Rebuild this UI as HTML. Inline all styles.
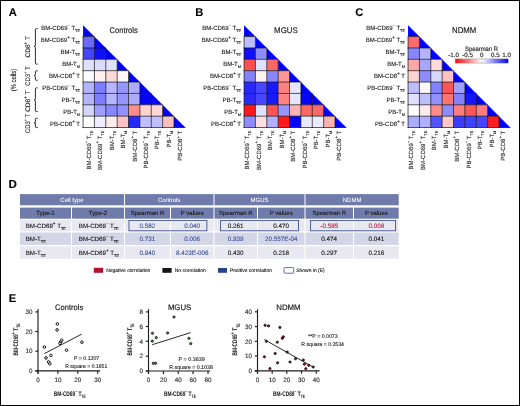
<!DOCTYPE html>
<html><head><meta charset="utf-8"><style>
html,body{margin:0;padding:0;background:#fff;}
svg{display:block;font-family:"Liberation Sans", sans-serif;-webkit-font-smoothing:antialiased;will-change:transform;text-rendering:geometricPrecision;}
</style></head><body>
<svg width="520" height="406" viewBox="0 0 520 406">
<rect x="0" y="0" width="520" height="406" fill="#fff"/>

<text x="8.80" y="15.50" font-size="11.2" fill="#000" stroke="#000" stroke-width="0.1" font-weight="bold">A</text>
<text x="195.20" y="15.60" font-size="11.2" fill="#000" stroke="#000" stroke-width="0.1" font-weight="bold">B</text>
<text x="355.30" y="15.70" font-size="11.2" fill="#000" stroke="#000" stroke-width="0.1" font-weight="bold">C</text>
<text x="8.60" y="188.20" font-size="11.6" fill="#000" stroke="#000" stroke-width="0.1" font-weight="bold">D</text>
<text x="8.80" y="302.10" font-size="11.2" fill="#000" stroke="#000" stroke-width="0.1" font-weight="bold">E</text>
<polygon points="83.05,25.20 94.42,36.57 83.05,36.57" fill="#0000ff"/>
<polygon points="94.42,36.57 105.79,47.94 94.42,47.94" fill="#0000ff"/>
<polygon points="105.79,47.94 117.16,59.31 105.79,59.31" fill="#0000ff"/>
<polygon points="117.16,59.31 128.53,70.68 117.16,70.68" fill="#0000ff"/>
<polygon points="128.53,70.68 139.90,82.05 128.53,82.05" fill="#0000ff"/>
<polygon points="139.90,82.05 151.27,93.42 139.90,93.42" fill="#0000ff"/>
<polygon points="151.27,93.42 162.64,104.79 151.27,104.79" fill="#0000ff"/>
<polygon points="162.64,104.79 174.01,116.16 162.64,116.16" fill="#0000ff"/>
<polygon points="174.01,116.16 185.38,127.53 174.01,127.53" fill="#0000ff"/>
<rect x="83.05" y="36.57" width="11.37" height="11.37" fill="rgb(107,107,255)"/>
<rect x="83.05" y="47.94" width="11.37" height="11.37" fill="rgb(69,69,255)"/>
<rect x="94.42" y="47.94" width="11.37" height="11.37" fill="rgb(15,15,255)"/>
<rect x="83.05" y="59.31" width="11.37" height="11.37" fill="rgb(224,224,255)"/>
<rect x="94.42" y="59.31" width="11.37" height="11.37" fill="rgb(219,219,255)"/>
<rect x="105.79" y="59.31" width="11.37" height="11.37" fill="rgb(224,224,255)"/>
<rect x="83.05" y="70.68" width="11.37" height="11.37" fill="rgb(250,250,255)"/>
<rect x="94.42" y="70.68" width="11.37" height="11.37" fill="rgb(255,240,240)"/>
<rect x="105.79" y="70.68" width="11.37" height="11.37" fill="rgb(255,217,217)"/>
<rect x="117.16" y="70.68" width="11.37" height="11.37" fill="rgb(255,247,247)"/>
<rect x="83.05" y="82.05" width="11.37" height="11.37" fill="rgb(181,181,255)"/>
<rect x="94.42" y="82.05" width="11.37" height="11.37" fill="rgb(125,125,255)"/>
<rect x="105.79" y="82.05" width="11.37" height="11.37" fill="rgb(181,181,255)"/>
<rect x="117.16" y="82.05" width="11.37" height="11.37" fill="rgb(150,150,255)"/>
<rect x="128.53" y="82.05" width="11.37" height="11.37" fill="rgb(171,171,255)"/>
<rect x="83.05" y="93.42" width="11.37" height="11.37" fill="rgb(181,181,255)"/>
<rect x="94.42" y="93.42" width="11.37" height="11.37" fill="rgb(125,125,255)"/>
<rect x="105.79" y="93.42" width="11.37" height="11.37" fill="rgb(181,181,255)"/>
<rect x="117.16" y="93.42" width="11.37" height="11.37" fill="rgb(150,150,255)"/>
<rect x="128.53" y="93.42" width="11.37" height="11.37" fill="rgb(171,171,255)"/>
<rect x="139.90" y="93.42" width="11.37" height="11.37" fill="rgb(5,5,255)"/>
<rect x="83.05" y="104.79" width="11.37" height="11.37" fill="rgb(214,214,255)"/>
<rect x="94.42" y="104.79" width="11.37" height="11.37" fill="rgb(158,158,255)"/>
<rect x="105.79" y="104.79" width="11.37" height="11.37" fill="rgb(135,135,255)"/>
<rect x="117.16" y="104.79" width="11.37" height="11.37" fill="rgb(145,145,255)"/>
<rect x="128.53" y="104.79" width="11.37" height="11.37" fill="rgb(255,140,140)"/>
<rect x="139.90" y="104.79" width="11.37" height="11.37" fill="rgb(255,209,209)"/>
<rect x="151.27" y="104.79" width="11.37" height="11.37" fill="rgb(255,214,214)"/>
<rect x="83.05" y="116.16" width="11.37" height="11.37" fill="rgb(255,255,255)"/>
<rect x="94.42" y="116.16" width="11.37" height="11.37" fill="rgb(237,237,255)"/>
<rect x="105.79" y="116.16" width="11.37" height="11.37" fill="rgb(255,237,237)"/>
<rect x="117.16" y="116.16" width="11.37" height="11.37" fill="rgb(255,194,194)"/>
<rect x="128.53" y="116.16" width="11.37" height="11.37" fill="rgb(41,41,255)"/>
<rect x="139.90" y="116.16" width="11.37" height="11.37" fill="rgb(191,191,255)"/>
<rect x="151.27" y="116.16" width="11.37" height="11.37" fill="rgb(191,191,255)"/>
<rect x="162.64" y="116.16" width="11.37" height="11.37" fill="rgb(255,191,191)"/>
<line x1="82.6" y1="36.57" x2="94.42" y2="36.57" stroke="#000" stroke-width="0.9" stroke-opacity="0.72"/>
<line x1="82.6" y1="47.94" x2="105.79" y2="47.94" stroke="#000" stroke-width="0.9" stroke-opacity="0.72"/>
<line x1="82.6" y1="59.31" x2="117.16" y2="59.31" stroke="#000" stroke-width="0.9" stroke-opacity="0.72"/>
<line x1="82.6" y1="70.68" x2="128.53" y2="70.68" stroke="#000" stroke-width="0.9" stroke-opacity="0.72"/>
<line x1="82.6" y1="82.05" x2="139.90" y2="82.05" stroke="#000" stroke-width="0.9" stroke-opacity="0.72"/>
<line x1="82.6" y1="93.42" x2="151.27" y2="93.42" stroke="#000" stroke-width="0.9" stroke-opacity="0.72"/>
<line x1="82.6" y1="104.79" x2="162.64" y2="104.79" stroke="#000" stroke-width="0.9" stroke-opacity="0.72"/>
<line x1="82.6" y1="116.16" x2="174.01" y2="116.16" stroke="#000" stroke-width="0.9" stroke-opacity="0.72"/>
<line x1="82.6" y1="127.53" x2="185.38" y2="127.53" stroke="#000" stroke-width="0.9" stroke-opacity="0.72"/>
<line x1="83.05" y1="36.57" x2="83.05" y2="127.98" stroke="#000" stroke-width="0.9" stroke-opacity="0.72"/>
<line x1="94.42" y1="36.57" x2="94.42" y2="127.98" stroke="#000" stroke-width="0.9" stroke-opacity="0.72"/>
<line x1="105.79" y1="47.94" x2="105.79" y2="127.98" stroke="#000" stroke-width="0.9" stroke-opacity="0.72"/>
<line x1="117.16" y1="59.31" x2="117.16" y2="127.98" stroke="#000" stroke-width="0.9" stroke-opacity="0.72"/>
<line x1="128.53" y1="70.68" x2="128.53" y2="127.98" stroke="#000" stroke-width="0.9" stroke-opacity="0.72"/>
<line x1="139.90" y1="82.05" x2="139.90" y2="127.98" stroke="#000" stroke-width="0.9" stroke-opacity="0.72"/>
<line x1="151.27" y1="93.42" x2="151.27" y2="127.98" stroke="#000" stroke-width="0.9" stroke-opacity="0.72"/>
<line x1="162.64" y1="104.79" x2="162.64" y2="127.98" stroke="#000" stroke-width="0.9" stroke-opacity="0.72"/>
<line x1="174.01" y1="116.16" x2="174.01" y2="127.98" stroke="#000" stroke-width="0.9" stroke-opacity="0.72"/>
<text x="80.05" y="29.80" font-size="6" fill="#222" stroke="#222" stroke-width="0.12" text-anchor="end" >BM-CD69<tspan font-size="4.00" dy="-2.8">−</tspan><tspan dy="2.8"> T</tspan><tspan font-size="3.9" dy="2.0">TE</tspan></text>
<text x="80.05" y="41.78" font-size="6" fill="#222" stroke="#222" stroke-width="0.12" text-anchor="end" >BM-CD69<tspan font-size="4.60" dy="-2.8">+</tspan><tspan dy="2.8"> T</tspan><tspan font-size="3.9" dy="2.0">TE</tspan></text>
<text x="80.05" y="53.76" font-size="6" fill="#222" stroke="#222" stroke-width="0.12" text-anchor="end" >BM-T<tspan font-size="3.9" dy="2.0">TE</tspan></text>
<text x="80.05" y="65.74" font-size="6" fill="#222" stroke="#222" stroke-width="0.12" text-anchor="end" >BM-T<tspan font-size="3.9" dy="2.0">M</tspan></text>
<text x="80.05" y="77.72" font-size="6" fill="#222" stroke="#222" stroke-width="0.12" text-anchor="end" >BM-CD8<tspan font-size="4.60" dy="-2.8">+</tspan><tspan dy="2.8"> T</tspan></text>
<text x="80.05" y="89.70" font-size="6" fill="#222" stroke="#222" stroke-width="0.12" text-anchor="end" >PB-CD69<tspan font-size="4.00" dy="-2.8">−</tspan><tspan dy="2.8"> T</tspan><tspan font-size="3.9" dy="2.0">TE</tspan></text>
<text x="80.05" y="101.68" font-size="6" fill="#222" stroke="#222" stroke-width="0.12" text-anchor="end" >PB-T<tspan font-size="3.9" dy="2.0">TE</tspan></text>
<text x="80.05" y="113.66" font-size="6" fill="#222" stroke="#222" stroke-width="0.12" text-anchor="end" >PB-T<tspan font-size="3.9" dy="2.0">M</tspan></text>
<text x="80.05" y="125.64" font-size="6" fill="#222" stroke="#222" stroke-width="0.12" text-anchor="end" >PB-CD8<tspan font-size="4.60" dy="-2.8">+</tspan><tspan dy="2.8"> T</tspan></text>
<text transform="translate(90.80,130.70) rotate(-90)" font-size="6" fill="#222" stroke="#222" stroke-width="0.12" text-anchor="end" >BM-CD69<tspan font-size="4.00" dy="-2.8">−</tspan><tspan dy="2.8"> T</tspan><tspan font-size="3.9" dy="2.0">TE</tspan></text>
<text transform="translate(102.24,130.70) rotate(-90)" font-size="6" fill="#222" stroke="#222" stroke-width="0.12" text-anchor="end" >BM-CD69<tspan font-size="4.60" dy="-2.8">+</tspan><tspan dy="2.8"> T</tspan><tspan font-size="3.9" dy="2.0">TE</tspan></text>
<text transform="translate(113.68,130.70) rotate(-90)" font-size="6" fill="#222" stroke="#222" stroke-width="0.12" text-anchor="end" >BM-T<tspan font-size="3.9" dy="2.0">TE</tspan></text>
<text transform="translate(125.12,130.70) rotate(-90)" font-size="6" fill="#222" stroke="#222" stroke-width="0.12" text-anchor="end" >BM-T<tspan font-size="3.9" dy="2.0">M</tspan></text>
<text transform="translate(136.56,130.70) rotate(-90)" font-size="6" fill="#222" stroke="#222" stroke-width="0.12" text-anchor="end" >BM-CD8<tspan font-size="4.60" dy="-2.8">+</tspan><tspan dy="2.8"> T</tspan></text>
<text transform="translate(148.00,130.70) rotate(-90)" font-size="6" fill="#222" stroke="#222" stroke-width="0.12" text-anchor="end" >PB-CD69<tspan font-size="4.00" dy="-2.8">−</tspan><tspan dy="2.8"> T</tspan><tspan font-size="3.9" dy="2.0">TE</tspan></text>
<text transform="translate(159.44,130.70) rotate(-90)" font-size="6" fill="#222" stroke="#222" stroke-width="0.12" text-anchor="end" >PB-T<tspan font-size="3.9" dy="2.0">TE</tspan></text>
<text transform="translate(170.88,130.70) rotate(-90)" font-size="6" fill="#222" stroke="#222" stroke-width="0.12" text-anchor="end" >PB-T<tspan font-size="3.9" dy="2.0">M</tspan></text>
<text transform="translate(182.32,130.70) rotate(-90)" font-size="6" fill="#222" stroke="#222" stroke-width="0.12" text-anchor="end" >PB-CD8<tspan font-size="4.60" dy="-2.8">+</tspan><tspan dy="2.8"> T</tspan></text>
<text x="109.50" y="32.50" font-size="8.2" fill="#1a1a1a" stroke="#1a1a1a" stroke-width="0.15" textLength="28.3" lengthAdjust="spacingAndGlyphs">Controls</text>
<polygon points="244.05,25.20 255.42,36.57 244.05,36.57" fill="#0000ff"/>
<polygon points="255.42,36.57 266.79,47.94 255.42,47.94" fill="#0000ff"/>
<polygon points="266.79,47.94 278.16,59.31 266.79,59.31" fill="#0000ff"/>
<polygon points="278.16,59.31 289.53,70.68 278.16,70.68" fill="#0000ff"/>
<polygon points="289.53,70.68 300.90,82.05 289.53,82.05" fill="#0000ff"/>
<polygon points="300.90,82.05 312.27,93.42 300.90,93.42" fill="#0000ff"/>
<polygon points="312.27,93.42 323.64,104.79 312.27,104.79" fill="#0000ff"/>
<polygon points="323.64,104.79 335.01,116.16 323.64,116.16" fill="#0000ff"/>
<polygon points="335.01,116.16 346.38,127.53 335.01,127.53" fill="#0000ff"/>
<rect x="244.05" y="36.57" width="11.37" height="11.37" fill="rgb(188,188,255)"/>
<rect x="244.05" y="47.94" width="11.37" height="11.37" fill="rgb(16,16,255)"/>
<rect x="255.42" y="47.94" width="11.37" height="11.37" fill="rgb(140,140,255)"/>
<rect x="244.05" y="59.31" width="11.37" height="11.37" fill="rgb(255,79,79)"/>
<rect x="255.42" y="59.31" width="11.37" height="11.37" fill="rgb(224,224,255)"/>
<rect x="266.79" y="59.31" width="11.37" height="11.37" fill="rgb(255,102,102)"/>
<rect x="244.05" y="70.68" width="11.37" height="11.37" fill="rgb(130,130,255)"/>
<rect x="255.42" y="70.68" width="11.37" height="11.37" fill="rgb(255,242,242)"/>
<rect x="266.79" y="70.68" width="11.37" height="11.37" fill="rgb(135,135,255)"/>
<rect x="278.16" y="70.68" width="11.37" height="11.37" fill="rgb(255,150,150)"/>
<rect x="244.05" y="82.05" width="11.37" height="11.37" fill="rgb(41,41,255)"/>
<rect x="255.42" y="82.05" width="11.37" height="11.37" fill="rgb(71,71,255)"/>
<rect x="266.79" y="82.05" width="11.37" height="11.37" fill="rgb(25,25,255)"/>
<rect x="278.16" y="82.05" width="11.37" height="11.37" fill="rgb(255,130,130)"/>
<rect x="289.53" y="82.05" width="11.37" height="11.37" fill="rgb(230,230,255)"/>
<rect x="244.05" y="93.42" width="11.37" height="11.37" fill="rgb(41,41,255)"/>
<rect x="255.42" y="93.42" width="11.37" height="11.37" fill="rgb(71,71,255)"/>
<rect x="266.79" y="93.42" width="11.37" height="11.37" fill="rgb(25,25,255)"/>
<rect x="278.16" y="93.42" width="11.37" height="11.37" fill="rgb(255,130,130)"/>
<rect x="289.53" y="93.42" width="11.37" height="11.37" fill="rgb(230,230,255)"/>
<rect x="300.90" y="93.42" width="11.37" height="11.37" fill="rgb(5,5,255)"/>
<rect x="244.05" y="104.79" width="11.37" height="11.37" fill="rgb(255,25,25)"/>
<rect x="255.42" y="104.79" width="11.37" height="11.37" fill="rgb(224,224,255)"/>
<rect x="266.79" y="104.79" width="11.37" height="11.37" fill="rgb(255,84,84)"/>
<rect x="278.16" y="104.79" width="11.37" height="11.37" fill="rgb(150,150,255)"/>
<rect x="289.53" y="104.79" width="11.37" height="11.37" fill="rgb(255,178,178)"/>
<rect x="300.90" y="104.79" width="11.37" height="11.37" fill="rgb(255,102,102)"/>
<rect x="312.27" y="104.79" width="11.37" height="11.37" fill="rgb(255,102,102)"/>
<rect x="244.05" y="116.16" width="11.37" height="11.37" fill="rgb(140,140,255)"/>
<rect x="255.42" y="116.16" width="11.37" height="11.37" fill="rgb(255,224,224)"/>
<rect x="266.79" y="116.16" width="11.37" height="11.37" fill="rgb(176,176,255)"/>
<rect x="278.16" y="116.16" width="11.37" height="11.37" fill="rgb(255,25,25)"/>
<rect x="289.53" y="116.16" width="11.37" height="11.37" fill="rgb(5,5,255)"/>
<rect x="300.90" y="116.16" width="11.37" height="11.37" fill="rgb(235,235,255)"/>
<rect x="312.27" y="116.16" width="11.37" height="11.37" fill="rgb(235,235,255)"/>
<rect x="323.64" y="116.16" width="11.37" height="11.37" fill="rgb(255,178,178)"/>
<line x1="243.60000000000002" y1="36.57" x2="255.42" y2="36.57" stroke="#000" stroke-width="0.9" stroke-opacity="0.72"/>
<line x1="243.60000000000002" y1="47.94" x2="266.79" y2="47.94" stroke="#000" stroke-width="0.9" stroke-opacity="0.72"/>
<line x1="243.60000000000002" y1="59.31" x2="278.16" y2="59.31" stroke="#000" stroke-width="0.9" stroke-opacity="0.72"/>
<line x1="243.60000000000002" y1="70.68" x2="289.53" y2="70.68" stroke="#000" stroke-width="0.9" stroke-opacity="0.72"/>
<line x1="243.60000000000002" y1="82.05" x2="300.90" y2="82.05" stroke="#000" stroke-width="0.9" stroke-opacity="0.72"/>
<line x1="243.60000000000002" y1="93.42" x2="312.27" y2="93.42" stroke="#000" stroke-width="0.9" stroke-opacity="0.72"/>
<line x1="243.60000000000002" y1="104.79" x2="323.64" y2="104.79" stroke="#000" stroke-width="0.9" stroke-opacity="0.72"/>
<line x1="243.60000000000002" y1="116.16" x2="335.01" y2="116.16" stroke="#000" stroke-width="0.9" stroke-opacity="0.72"/>
<line x1="243.60000000000002" y1="127.53" x2="346.38" y2="127.53" stroke="#000" stroke-width="0.9" stroke-opacity="0.72"/>
<line x1="244.05" y1="36.57" x2="244.05" y2="127.98" stroke="#000" stroke-width="0.9" stroke-opacity="0.72"/>
<line x1="255.42" y1="36.57" x2="255.42" y2="127.98" stroke="#000" stroke-width="0.9" stroke-opacity="0.72"/>
<line x1="266.79" y1="47.94" x2="266.79" y2="127.98" stroke="#000" stroke-width="0.9" stroke-opacity="0.72"/>
<line x1="278.16" y1="59.31" x2="278.16" y2="127.98" stroke="#000" stroke-width="0.9" stroke-opacity="0.72"/>
<line x1="289.53" y1="70.68" x2="289.53" y2="127.98" stroke="#000" stroke-width="0.9" stroke-opacity="0.72"/>
<line x1="300.90" y1="82.05" x2="300.90" y2="127.98" stroke="#000" stroke-width="0.9" stroke-opacity="0.72"/>
<line x1="312.27" y1="93.42" x2="312.27" y2="127.98" stroke="#000" stroke-width="0.9" stroke-opacity="0.72"/>
<line x1="323.64" y1="104.79" x2="323.64" y2="127.98" stroke="#000" stroke-width="0.9" stroke-opacity="0.72"/>
<line x1="335.01" y1="116.16" x2="335.01" y2="127.98" stroke="#000" stroke-width="0.9" stroke-opacity="0.72"/>
<text x="241.05" y="29.80" font-size="6" fill="#222" stroke="#222" stroke-width="0.12" text-anchor="end" >BM-CD69<tspan font-size="4.00" dy="-2.8">−</tspan><tspan dy="2.8"> T</tspan><tspan font-size="3.9" dy="2.0">TE</tspan></text>
<text x="241.05" y="41.78" font-size="6" fill="#222" stroke="#222" stroke-width="0.12" text-anchor="end" >BM-CD69<tspan font-size="4.60" dy="-2.8">+</tspan><tspan dy="2.8"> T</tspan><tspan font-size="3.9" dy="2.0">TE</tspan></text>
<text x="241.05" y="53.76" font-size="6" fill="#222" stroke="#222" stroke-width="0.12" text-anchor="end" >BM-T<tspan font-size="3.9" dy="2.0">TE</tspan></text>
<text x="241.05" y="65.74" font-size="6" fill="#222" stroke="#222" stroke-width="0.12" text-anchor="end" >BM-T<tspan font-size="3.9" dy="2.0">M</tspan></text>
<text x="241.05" y="77.72" font-size="6" fill="#222" stroke="#222" stroke-width="0.12" text-anchor="end" >BM-CD8<tspan font-size="4.60" dy="-2.8">+</tspan><tspan dy="2.8"> T</tspan></text>
<text x="241.05" y="89.70" font-size="6" fill="#222" stroke="#222" stroke-width="0.12" text-anchor="end" >PB-CD69<tspan font-size="4.00" dy="-2.8">−</tspan><tspan dy="2.8"> T</tspan><tspan font-size="3.9" dy="2.0">TE</tspan></text>
<text x="241.05" y="101.68" font-size="6" fill="#222" stroke="#222" stroke-width="0.12" text-anchor="end" >PB-T<tspan font-size="3.9" dy="2.0">TE</tspan></text>
<text x="241.05" y="113.66" font-size="6" fill="#222" stroke="#222" stroke-width="0.12" text-anchor="end" >PB-T<tspan font-size="3.9" dy="2.0">M</tspan></text>
<text x="241.05" y="125.64" font-size="6" fill="#222" stroke="#222" stroke-width="0.12" text-anchor="end" >PB-CD8<tspan font-size="4.60" dy="-2.8">+</tspan><tspan dy="2.8"> T</tspan></text>
<text transform="translate(249.10,130.70) rotate(-90)" font-size="6" fill="#222" stroke="#222" stroke-width="0.12" text-anchor="end" >BM-CD69<tspan font-size="4.00" dy="-2.8">−</tspan><tspan dy="2.8"> T</tspan><tspan font-size="3.9" dy="2.0">TE</tspan></text>
<text transform="translate(260.60,130.70) rotate(-90)" font-size="6" fill="#222" stroke="#222" stroke-width="0.12" text-anchor="end" >BM-CD69<tspan font-size="4.60" dy="-2.8">+</tspan><tspan dy="2.8"> T</tspan><tspan font-size="3.9" dy="2.0">TE</tspan></text>
<text transform="translate(272.10,130.70) rotate(-90)" font-size="6" fill="#222" stroke="#222" stroke-width="0.12" text-anchor="end" >BM-T<tspan font-size="3.9" dy="2.0">TE</tspan></text>
<text transform="translate(283.60,130.70) rotate(-90)" font-size="6" fill="#222" stroke="#222" stroke-width="0.12" text-anchor="end" >BM-T<tspan font-size="3.9" dy="2.0">M</tspan></text>
<text transform="translate(295.10,130.70) rotate(-90)" font-size="6" fill="#222" stroke="#222" stroke-width="0.12" text-anchor="end" >BM-CD8<tspan font-size="4.60" dy="-2.8">+</tspan><tspan dy="2.8"> T</tspan></text>
<text transform="translate(306.60,130.70) rotate(-90)" font-size="6" fill="#222" stroke="#222" stroke-width="0.12" text-anchor="end" >PB-CD69<tspan font-size="4.00" dy="-2.8">−</tspan><tspan dy="2.8"> T</tspan><tspan font-size="3.9" dy="2.0">TE</tspan></text>
<text transform="translate(318.10,130.70) rotate(-90)" font-size="6" fill="#222" stroke="#222" stroke-width="0.12" text-anchor="end" >PB-T<tspan font-size="3.9" dy="2.0">TE</tspan></text>
<text transform="translate(329.60,130.70) rotate(-90)" font-size="6" fill="#222" stroke="#222" stroke-width="0.12" text-anchor="end" >PB-T<tspan font-size="3.9" dy="2.0">M</tspan></text>
<text transform="translate(341.10,130.70) rotate(-90)" font-size="6" fill="#222" stroke="#222" stroke-width="0.12" text-anchor="end" >PB-CD8<tspan font-size="4.60" dy="-2.8">+</tspan><tspan dy="2.8"> T</tspan></text>
<text x="274.10" y="32.50" font-size="8.2" fill="#1a1a1a" stroke="#1a1a1a" stroke-width="0.15" textLength="23.6" lengthAdjust="spacingAndGlyphs">MGUS</text>
<polygon points="408.05,25.20 419.42,36.57 408.05,36.57" fill="#0000ff"/>
<polygon points="419.42,36.57 430.79,47.94 419.42,47.94" fill="#0000ff"/>
<polygon points="430.79,47.94 442.16,59.31 430.79,59.31" fill="#0000ff"/>
<polygon points="442.16,59.31 453.53,70.68 442.16,70.68" fill="#0000ff"/>
<polygon points="453.53,70.68 464.90,82.05 453.53,82.05" fill="#0000ff"/>
<polygon points="464.90,82.05 476.27,93.42 464.90,93.42" fill="#0000ff"/>
<polygon points="476.27,93.42 487.64,104.79 476.27,104.79" fill="#0000ff"/>
<polygon points="487.64,104.79 499.01,116.16 487.64,116.16" fill="#0000ff"/>
<polygon points="499.01,116.16 510.38,127.53 499.01,127.53" fill="#0000ff"/>
<rect x="408.05" y="36.57" width="11.37" height="11.37" fill="rgb(255,106,106)"/>
<rect x="408.05" y="47.94" width="11.37" height="11.37" fill="rgb(134,134,255)"/>
<rect x="419.42" y="47.94" width="11.37" height="11.37" fill="rgb(179,179,255)"/>
<rect x="408.05" y="59.31" width="11.37" height="11.37" fill="rgb(255,166,166)"/>
<rect x="419.42" y="59.31" width="11.37" height="11.37" fill="rgb(166,166,255)"/>
<rect x="430.79" y="59.31" width="11.37" height="11.37" fill="rgb(255,219,219)"/>
<rect x="408.05" y="70.68" width="11.37" height="11.37" fill="rgb(255,209,209)"/>
<rect x="419.42" y="70.68" width="11.37" height="11.37" fill="rgb(140,140,255)"/>
<rect x="430.79" y="70.68" width="11.37" height="11.37" fill="rgb(214,214,255)"/>
<rect x="442.16" y="70.68" width="11.37" height="11.37" fill="rgb(255,194,194)"/>
<rect x="408.05" y="82.05" width="11.37" height="11.37" fill="rgb(189,189,255)"/>
<rect x="419.42" y="82.05" width="11.37" height="11.37" fill="rgb(255,247,247)"/>
<rect x="430.79" y="82.05" width="11.37" height="11.37" fill="rgb(130,130,255)"/>
<rect x="442.16" y="82.05" width="11.37" height="11.37" fill="rgb(255,84,84)"/>
<rect x="453.53" y="82.05" width="11.37" height="11.37" fill="rgb(161,161,255)"/>
<rect x="408.05" y="93.42" width="11.37" height="11.37" fill="rgb(224,224,255)"/>
<rect x="419.42" y="93.42" width="11.37" height="11.37" fill="rgb(189,189,255)"/>
<rect x="430.79" y="93.42" width="11.37" height="11.37" fill="rgb(145,145,255)"/>
<rect x="442.16" y="93.42" width="11.37" height="11.37" fill="rgb(255,115,115)"/>
<rect x="453.53" y="93.42" width="11.37" height="11.37" fill="rgb(130,130,255)"/>
<rect x="464.90" y="93.42" width="11.37" height="11.37" fill="rgb(20,20,255)"/>
<rect x="408.05" y="104.79" width="11.37" height="11.37" fill="rgb(255,255,255)"/>
<rect x="419.42" y="104.79" width="11.37" height="11.37" fill="rgb(255,235,235)"/>
<rect x="430.79" y="104.79" width="11.37" height="11.37" fill="rgb(255,140,140)"/>
<rect x="442.16" y="104.79" width="11.37" height="11.37" fill="rgb(140,140,255)"/>
<rect x="453.53" y="104.79" width="11.37" height="11.37" fill="rgb(255,125,125)"/>
<rect x="464.90" y="104.79" width="11.37" height="11.37" fill="rgb(255,89,89)"/>
<rect x="476.27" y="104.79" width="11.37" height="11.37" fill="rgb(255,125,125)"/>
<rect x="408.05" y="116.16" width="11.37" height="11.37" fill="rgb(171,171,255)"/>
<rect x="419.42" y="116.16" width="11.37" height="11.37" fill="rgb(176,176,255)"/>
<rect x="430.79" y="116.16" width="11.37" height="11.37" fill="rgb(84,84,255)"/>
<rect x="442.16" y="116.16" width="11.37" height="11.37" fill="rgb(255,199,199)"/>
<rect x="453.53" y="116.16" width="11.37" height="11.37" fill="rgb(61,61,255)"/>
<rect x="464.90" y="116.16" width="11.37" height="11.37" fill="rgb(64,64,255)"/>
<rect x="476.27" y="116.16" width="11.37" height="11.37" fill="rgb(69,69,255)"/>
<rect x="487.64" y="116.16" width="11.37" height="11.37" fill="rgb(255,31,31)"/>
<line x1="407.6" y1="36.57" x2="419.42" y2="36.57" stroke="#000" stroke-width="0.9" stroke-opacity="0.72"/>
<line x1="407.6" y1="47.94" x2="430.79" y2="47.94" stroke="#000" stroke-width="0.9" stroke-opacity="0.72"/>
<line x1="407.6" y1="59.31" x2="442.16" y2="59.31" stroke="#000" stroke-width="0.9" stroke-opacity="0.72"/>
<line x1="407.6" y1="70.68" x2="453.53" y2="70.68" stroke="#000" stroke-width="0.9" stroke-opacity="0.72"/>
<line x1="407.6" y1="82.05" x2="464.90" y2="82.05" stroke="#000" stroke-width="0.9" stroke-opacity="0.72"/>
<line x1="407.6" y1="93.42" x2="476.27" y2="93.42" stroke="#000" stroke-width="0.9" stroke-opacity="0.72"/>
<line x1="407.6" y1="104.79" x2="487.64" y2="104.79" stroke="#000" stroke-width="0.9" stroke-opacity="0.72"/>
<line x1="407.6" y1="116.16" x2="499.01" y2="116.16" stroke="#000" stroke-width="0.9" stroke-opacity="0.72"/>
<line x1="407.6" y1="127.53" x2="510.38" y2="127.53" stroke="#000" stroke-width="0.9" stroke-opacity="0.72"/>
<line x1="408.05" y1="36.57" x2="408.05" y2="127.98" stroke="#000" stroke-width="0.9" stroke-opacity="0.72"/>
<line x1="419.42" y1="36.57" x2="419.42" y2="127.98" stroke="#000" stroke-width="0.9" stroke-opacity="0.72"/>
<line x1="430.79" y1="47.94" x2="430.79" y2="127.98" stroke="#000" stroke-width="0.9" stroke-opacity="0.72"/>
<line x1="442.16" y1="59.31" x2="442.16" y2="127.98" stroke="#000" stroke-width="0.9" stroke-opacity="0.72"/>
<line x1="453.53" y1="70.68" x2="453.53" y2="127.98" stroke="#000" stroke-width="0.9" stroke-opacity="0.72"/>
<line x1="464.90" y1="82.05" x2="464.90" y2="127.98" stroke="#000" stroke-width="0.9" stroke-opacity="0.72"/>
<line x1="476.27" y1="93.42" x2="476.27" y2="127.98" stroke="#000" stroke-width="0.9" stroke-opacity="0.72"/>
<line x1="487.64" y1="104.79" x2="487.64" y2="127.98" stroke="#000" stroke-width="0.9" stroke-opacity="0.72"/>
<line x1="499.01" y1="116.16" x2="499.01" y2="127.98" stroke="#000" stroke-width="0.9" stroke-opacity="0.72"/>
<text x="405.05" y="29.80" font-size="6" fill="#222" stroke="#222" stroke-width="0.12" text-anchor="end" >BM-CD69<tspan font-size="4.00" dy="-2.8">−</tspan><tspan dy="2.8"> T</tspan><tspan font-size="3.9" dy="2.0">TE</tspan></text>
<text x="405.05" y="41.78" font-size="6" fill="#222" stroke="#222" stroke-width="0.12" text-anchor="end" >BM-CD69<tspan font-size="4.60" dy="-2.8">+</tspan><tspan dy="2.8"> T</tspan><tspan font-size="3.9" dy="2.0">TE</tspan></text>
<text x="405.05" y="53.76" font-size="6" fill="#222" stroke="#222" stroke-width="0.12" text-anchor="end" >BM-T<tspan font-size="3.9" dy="2.0">TE</tspan></text>
<text x="405.05" y="65.74" font-size="6" fill="#222" stroke="#222" stroke-width="0.12" text-anchor="end" >BM-T<tspan font-size="3.9" dy="2.0">M</tspan></text>
<text x="405.05" y="77.72" font-size="6" fill="#222" stroke="#222" stroke-width="0.12" text-anchor="end" >BM-CD8<tspan font-size="4.60" dy="-2.8">+</tspan><tspan dy="2.8"> T</tspan></text>
<text x="405.05" y="89.70" font-size="6" fill="#222" stroke="#222" stroke-width="0.12" text-anchor="end" >PB-CD69<tspan font-size="4.00" dy="-2.8">−</tspan><tspan dy="2.8"> T</tspan><tspan font-size="3.9" dy="2.0">TE</tspan></text>
<text x="405.05" y="101.68" font-size="6" fill="#222" stroke="#222" stroke-width="0.12" text-anchor="end" >PB-T<tspan font-size="3.9" dy="2.0">TE</tspan></text>
<text x="405.05" y="113.66" font-size="6" fill="#222" stroke="#222" stroke-width="0.12" text-anchor="end" >PB-T<tspan font-size="3.9" dy="2.0">M</tspan></text>
<text x="405.05" y="125.64" font-size="6" fill="#222" stroke="#222" stroke-width="0.12" text-anchor="end" >PB-CD8<tspan font-size="4.60" dy="-2.8">+</tspan><tspan dy="2.8"> T</tspan></text>
<text transform="translate(413.10,130.70) rotate(-90)" font-size="6" fill="#222" stroke="#222" stroke-width="0.12" text-anchor="end" >BM-CD69<tspan font-size="4.00" dy="-2.8">−</tspan><tspan dy="2.8"> T</tspan><tspan font-size="3.9" dy="2.0">TE</tspan></text>
<text transform="translate(424.60,130.70) rotate(-90)" font-size="6" fill="#222" stroke="#222" stroke-width="0.12" text-anchor="end" >BM-CD69<tspan font-size="4.60" dy="-2.8">+</tspan><tspan dy="2.8"> T</tspan><tspan font-size="3.9" dy="2.0">TE</tspan></text>
<text transform="translate(436.10,130.70) rotate(-90)" font-size="6" fill="#222" stroke="#222" stroke-width="0.12" text-anchor="end" >BM-T<tspan font-size="3.9" dy="2.0">TE</tspan></text>
<text transform="translate(447.60,130.70) rotate(-90)" font-size="6" fill="#222" stroke="#222" stroke-width="0.12" text-anchor="end" >BM-T<tspan font-size="3.9" dy="2.0">M</tspan></text>
<text transform="translate(459.10,130.70) rotate(-90)" font-size="6" fill="#222" stroke="#222" stroke-width="0.12" text-anchor="end" >BM-CD8<tspan font-size="4.60" dy="-2.8">+</tspan><tspan dy="2.8"> T</tspan></text>
<text transform="translate(470.60,130.70) rotate(-90)" font-size="6" fill="#222" stroke="#222" stroke-width="0.12" text-anchor="end" >PB-CD69<tspan font-size="4.00" dy="-2.8">−</tspan><tspan dy="2.8"> T</tspan><tspan font-size="3.9" dy="2.0">TE</tspan></text>
<text transform="translate(482.10,130.70) rotate(-90)" font-size="6" fill="#222" stroke="#222" stroke-width="0.12" text-anchor="end" >PB-T<tspan font-size="3.9" dy="2.0">TE</tspan></text>
<text transform="translate(493.60,130.70) rotate(-90)" font-size="6" fill="#222" stroke="#222" stroke-width="0.12" text-anchor="end" >PB-T<tspan font-size="3.9" dy="2.0">M</tspan></text>
<text transform="translate(505.10,130.70) rotate(-90)" font-size="6" fill="#222" stroke="#222" stroke-width="0.12" text-anchor="end" >PB-CD8<tspan font-size="4.60" dy="-2.8">+</tspan><tspan dy="2.8"> T</tspan></text>
<text x="452.00" y="32.50" font-size="8.2" fill="#1a1a1a" stroke="#1a1a1a" stroke-width="0.15" textLength="24.3" lengthAdjust="spacingAndGlyphs">NDMM</text>
<path d="M37.699999999999996,28.6 L36.3,28.6 Q35.4,28.6 35.4,29.5 L35.4,45.449999999999996 Q35.4,46.349999999999994 34.1,46.349999999999994 Q35.4,46.349999999999994 35.4,47.24999999999999 L35.4,63.199999999999996 Q35.4,64.1 36.3,64.1 L37.699999999999996,64.1" fill="none" stroke="#1e1e1e" stroke-width="0.95"/>
<path d="M37.699999999999996,70.8 L36.3,70.8 Q35.4,70.8 35.4,71.7 L35.4,74.64999999999999 Q35.4,75.55 34.1,75.55 Q35.4,75.55 35.4,76.45 L35.4,79.39999999999999 Q35.4,80.3 36.3,80.3 L37.699999999999996,80.3" fill="none" stroke="#1e1e1e" stroke-width="0.95"/>
<path d="M37.699999999999996,87.9 L36.3,87.9 Q35.4,87.9 35.4,88.80000000000001 L35.4,98.8 Q35.4,99.7 34.1,99.7 Q35.4,99.7 35.4,100.60000000000001 L35.4,110.6 Q35.4,111.5 36.3,111.5 L37.699999999999996,111.5" fill="none" stroke="#1e1e1e" stroke-width="0.95"/>
<path d="M37.699999999999996,118.3 L36.3,118.3 Q35.4,118.3 35.4,119.2 L35.4,122.04999999999998 Q35.4,122.94999999999999 34.1,122.94999999999999 Q35.4,122.94999999999999 35.4,123.85 L35.4,126.69999999999999 Q35.4,127.6 36.3,127.6 L37.699999999999996,127.6" fill="none" stroke="#1e1e1e" stroke-width="0.95"/>
<text transform="translate(29.50,46.80) rotate(-90)" font-size="6.6" fill="#222" stroke="#222" stroke-width="0.12" text-anchor="middle" textLength="21.5" lengthAdjust="spacingAndGlyphs">CD8<tspan font-size="4.4" dy="-3">+</tspan><tspan dy="3"> T</tspan></text>
<text transform="translate(29.50,76.10) rotate(-90)" font-size="6.6" fill="#222" stroke="#222" stroke-width="0.12" text-anchor="middle" textLength="19.4" lengthAdjust="spacingAndGlyphs">CD3<tspan font-size="4.4" dy="-3">+</tspan><tspan dy="3"> T</tspan></text>
<text transform="translate(29.50,101.20) rotate(-90)" font-size="6.6" fill="#222" stroke="#222" stroke-width="0.12" text-anchor="middle" textLength="21.3" lengthAdjust="spacingAndGlyphs">CD8<tspan font-size="4.4" dy="-3">+</tspan><tspan dy="3"> T</tspan></text>
<text transform="translate(29.50,123.40) rotate(-90)" font-size="6.6" fill="#222" stroke="#222" stroke-width="0.12" text-anchor="middle" textLength="19.2" lengthAdjust="spacingAndGlyphs">CD3<tspan font-size="4.4" dy="-3">+</tspan><tspan dy="3"> T</tspan></text>
<text transform="translate(15.60,80.10) rotate(-90)" font-size="7.4" fill="#222" stroke="#222" stroke-width="0.1" text-anchor="middle" textLength="22.4" lengthAdjust="spacingAndGlyphs">(% cells)</text>
<defs><linearGradient id="cb" x1="0" x2="1" y1="0" y2="0">
<stop offset="0" stop-color="#ff0000"/><stop offset="0.5" stop-color="#ffffff"/><stop offset="1" stop-color="#0000ff"/>
</linearGradient></defs>
<rect x="455.2" y="58.9" width="53" height="4.2" fill="url(#cb)" stroke="#8a8a8a" stroke-width="0.4"/>
<line x1="468.45" y1="58.9" x2="468.45" y2="59.9" stroke="#666" stroke-width="0.5"/>
<line x1="468.45" y1="62.1" x2="468.45" y2="63.1" stroke="#666" stroke-width="0.5"/>
<line x1="481.7" y1="58.9" x2="481.7" y2="59.9" stroke="#666" stroke-width="0.5"/>
<line x1="481.7" y1="62.1" x2="481.7" y2="63.1" stroke="#666" stroke-width="0.5"/>
<line x1="494.95" y1="58.9" x2="494.95" y2="59.9" stroke="#666" stroke-width="0.5"/>
<line x1="494.95" y1="62.1" x2="494.95" y2="63.1" stroke="#666" stroke-width="0.5"/>
<text x="465.00" y="50.80" font-size="6.4" fill="#222" stroke="#222" stroke-width="0.15" textLength="33" lengthAdjust="spacingAndGlyphs">Spearman R</text>
<text x="453.60" y="56.90" font-size="6.2" fill="#222" stroke="#222" stroke-width="0.15" text-anchor="middle" >-1.0</text>
<text x="467.60" y="56.90" font-size="6.2" fill="#222" stroke="#222" stroke-width="0.15" text-anchor="middle" >-0.5</text>
<text x="481.70" y="56.90" font-size="6.2" fill="#222" stroke="#222" stroke-width="0.15" text-anchor="middle" >0</text>
<text x="495.30" y="56.90" font-size="6.2" fill="#222" stroke="#222" stroke-width="0.15" text-anchor="middle" >0.5</text>
<text x="506.60" y="56.90" font-size="6.2" fill="#222" stroke="#222" stroke-width="0.15" text-anchor="middle" >1.0</text>
<rect x="20" y="194.1" width="104" height="11.2" fill="#6e7bab"/>
<rect x="125" y="194.1" width="88.5" height="11.2" fill="#6e7bab"/>
<rect x="214.5" y="194.1" width="90.0" height="11.2" fill="#6e7bab"/>
<rect x="305.5" y="194.1" width="93.19999999999999" height="11.2" fill="#6e7bab"/>
<rect x="20" y="207.6" width="51" height="11.1" fill="#6e7bab"/>
<rect x="72" y="207.6" width="52" height="11.1" fill="#6e7bab"/>
<rect x="125" y="207.6" width="45" height="11.1" fill="#6e7bab"/>
<rect x="171" y="207.6" width="42.5" height="11.1" fill="#6e7bab"/>
<rect x="214.5" y="207.6" width="42.5" height="11.1" fill="#6e7bab"/>
<rect x="258" y="207.6" width="46.5" height="11.1" fill="#6e7bab"/>
<rect x="305.5" y="207.6" width="47.5" height="11.1" fill="#6e7bab"/>
<rect x="354" y="207.6" width="44.69999999999999" height="11.1" fill="#6e7bab"/>
<rect x="20" y="219.9" width="51" height="11.40" fill="#e8e8f1"/>
<rect x="72" y="219.9" width="52" height="11.40" fill="#e8e8f1"/>
<rect x="125" y="219.9" width="45" height="11.40" fill="#e8e8f1"/>
<rect x="171" y="219.9" width="42.5" height="11.40" fill="#e8e8f1"/>
<rect x="214.5" y="219.9" width="42.5" height="11.40" fill="#e8e8f1"/>
<rect x="258" y="219.9" width="46.5" height="11.40" fill="#e8e8f1"/>
<rect x="305.5" y="219.9" width="47.5" height="11.40" fill="#e8e8f1"/>
<rect x="354" y="219.9" width="44.69999999999999" height="11.40" fill="#e8e8f1"/>
<rect x="20" y="232.5" width="51" height="12.50" fill="#d3d6e6"/>
<rect x="72" y="232.5" width="52" height="12.50" fill="#d3d6e6"/>
<rect x="125" y="232.5" width="45" height="12.50" fill="#d3d6e6"/>
<rect x="171" y="232.5" width="42.5" height="12.50" fill="#d3d6e6"/>
<rect x="214.5" y="232.5" width="42.5" height="12.50" fill="#d3d6e6"/>
<rect x="258" y="232.5" width="46.5" height="12.50" fill="#d3d6e6"/>
<rect x="305.5" y="232.5" width="47.5" height="12.50" fill="#d3d6e6"/>
<rect x="354" y="232.5" width="44.69999999999999" height="12.50" fill="#d3d6e6"/>
<rect x="20" y="246.3" width="51" height="12.50" fill="#e8e8f1"/>
<rect x="72" y="246.3" width="52" height="12.50" fill="#e8e8f1"/>
<rect x="125" y="246.3" width="45" height="12.50" fill="#e8e8f1"/>
<rect x="171" y="246.3" width="42.5" height="12.50" fill="#e8e8f1"/>
<rect x="214.5" y="246.3" width="42.5" height="12.50" fill="#e8e8f1"/>
<rect x="258" y="246.3" width="46.5" height="12.50" fill="#e8e8f1"/>
<rect x="305.5" y="246.3" width="47.5" height="12.50" fill="#e8e8f1"/>
<rect x="354" y="246.3" width="44.69999999999999" height="12.50" fill="#e8e8f1"/>
<text x="72.00" y="202.10" font-size="6.0" fill="#fff" stroke="#fff" stroke-width="0.04" text-anchor="middle" >Cell type</text>
<text x="169.20" y="202.10" font-size="6.0" fill="#fff" stroke="#fff" stroke-width="0.04" text-anchor="middle" >Controls</text>
<text x="259.50" y="202.10" font-size="6.0" fill="#fff" stroke="#fff" stroke-width="0.04" text-anchor="middle" >MGUS</text>
<text x="352.10" y="202.10" font-size="6.0" fill="#fff" stroke="#fff" stroke-width="0.04" text-anchor="middle" >NDMM</text>
<text x="45.50" y="215.40" font-size="6.0" fill="#1a1a1a" stroke="#1a1a1a" stroke-width="0.12" text-anchor="middle" >Type-1</text>
<text x="98.00" y="215.40" font-size="6.0" fill="#1a1a1a" stroke="#1a1a1a" stroke-width="0.12" text-anchor="middle" >Type-2</text>
<text x="147.50" y="215.40" font-size="6.0" fill="#1a1a1a" stroke="#1a1a1a" stroke-width="0.12" text-anchor="middle" >Spearman R</text>
<text x="192.25" y="215.40" font-size="6.0" fill="#1a1a1a" stroke="#1a1a1a" stroke-width="0.12" text-anchor="middle" >P values</text>
<text x="235.75" y="215.40" font-size="6.0" fill="#1a1a1a" stroke="#1a1a1a" stroke-width="0.12" text-anchor="middle" >Spearman R</text>
<text x="281.25" y="215.40" font-size="6.0" fill="#1a1a1a" stroke="#1a1a1a" stroke-width="0.12" text-anchor="middle" >P values</text>
<text x="329.25" y="215.40" font-size="6.0" fill="#1a1a1a" stroke="#1a1a1a" stroke-width="0.12" text-anchor="middle" >Spearman R</text>
<text x="376.35" y="215.40" font-size="6.0" fill="#1a1a1a" stroke="#1a1a1a" stroke-width="0.12" text-anchor="middle" >P values</text>
<text x="25.70" y="228.00" font-size="6.2" fill="#1a1a1a" stroke="#1a1a1a" stroke-width="0.12" >BM-CD69<tspan font-size="4.60" dy="-2.8">+</tspan><tspan dy="2.8"> T</tspan><tspan font-size="3.9" dy="2.0">TE</tspan></text>
<text x="78.80" y="228.00" font-size="6.2" fill="#1a1a1a" stroke="#1a1a1a" stroke-width="0.12" >BM-CD69<tspan font-size="4.00" dy="-2.8">−</tspan><tspan dy="2.8"> T</tspan><tspan font-size="3.9" dy="2.0">TE</tspan></text>
<text x="147.50" y="228.00" font-size="6.3" fill="#42549c" stroke="#42549c" stroke-width="0.12" text-anchor="middle" >0.582</text>
<text x="192.25" y="228.00" font-size="6.3" fill="#42549c" stroke="#42549c" stroke-width="0.12" text-anchor="middle" >0.040</text>
<text x="235.75" y="228.00" font-size="6.3" fill="#1a1a1a" stroke="#1a1a1a" stroke-width="0.12" text-anchor="middle" >0.261</text>
<text x="281.25" y="228.00" font-size="6.3" fill="#1a1a1a" stroke="#1a1a1a" stroke-width="0.12" text-anchor="middle" >0.470</text>
<text x="329.25" y="228.00" font-size="6.3" fill="#c0264a" stroke="#c0264a" stroke-width="0.12" text-anchor="middle" >-0.585</text>
<text x="376.35" y="228.00" font-size="6.3" fill="#c0264a" stroke="#c0264a" stroke-width="0.12" text-anchor="middle" >0.008</text>
<text x="25.70" y="240.60" font-size="6.2" fill="#1a1a1a" stroke="#1a1a1a" stroke-width="0.12" >BM-T<tspan font-size="3.9" dy="2.0">TE</tspan></text>
<text x="78.80" y="240.60" font-size="6.2" fill="#1a1a1a" stroke="#1a1a1a" stroke-width="0.12" >BM-CD69<tspan font-size="4.00" dy="-2.8">−</tspan><tspan dy="2.8"> T</tspan><tspan font-size="3.9" dy="2.0">TE</tspan></text>
<text x="147.50" y="240.60" font-size="6.3" fill="#42549c" stroke="#42549c" stroke-width="0.12" text-anchor="middle" >0.731</text>
<text x="192.25" y="240.60" font-size="6.3" fill="#42549c" stroke="#42549c" stroke-width="0.12" text-anchor="middle" >0.006</text>
<text x="235.75" y="240.60" font-size="6.3" fill="#42549c" stroke="#42549c" stroke-width="0.12" text-anchor="middle" >0.939</text>
<text x="281.25" y="240.60" font-size="6.3" fill="#42549c" stroke="#42549c" stroke-width="0.12" text-anchor="middle" >20.557E-04</text>
<text x="329.25" y="240.60" font-size="6.3" fill="#1a1a1a" stroke="#1a1a1a" stroke-width="0.12" text-anchor="middle" >0.474</text>
<text x="376.35" y="240.60" font-size="6.3" fill="#1a1a1a" stroke="#1a1a1a" stroke-width="0.12" text-anchor="middle" >0.041</text>
<text x="25.70" y="255.00" font-size="6.2" fill="#1a1a1a" stroke="#1a1a1a" stroke-width="0.12" >BM-T<tspan font-size="3.9" dy="2.0">TE</tspan></text>
<text x="78.80" y="255.00" font-size="6.2" fill="#1a1a1a" stroke="#1a1a1a" stroke-width="0.12" >BM-CD69<tspan font-size="4.60" dy="-2.8">+</tspan><tspan dy="2.8"> T</tspan><tspan font-size="3.9" dy="2.0">TE</tspan></text>
<text x="147.50" y="255.00" font-size="6.3" fill="#42549c" stroke="#42549c" stroke-width="0.12" text-anchor="middle" >0.940</text>
<text x="192.25" y="255.00" font-size="6.3" fill="#42549c" stroke="#42549c" stroke-width="0.12" text-anchor="middle" >8.423E-006</text>
<text x="235.75" y="255.00" font-size="6.3" fill="#1a1a1a" stroke="#1a1a1a" stroke-width="0.12" text-anchor="middle" >0.430</text>
<text x="281.25" y="255.00" font-size="6.3" fill="#1a1a1a" stroke="#1a1a1a" stroke-width="0.12" text-anchor="middle" >0.218</text>
<text x="329.25" y="255.00" font-size="6.3" fill="#1a1a1a" stroke="#1a1a1a" stroke-width="0.12" text-anchor="middle" >0.297</text>
<text x="376.35" y="255.00" font-size="6.3" fill="#1a1a1a" stroke="#1a1a1a" stroke-width="0.12" text-anchor="middle" >0.216</text>
<rect x="129" y="220.4" width="77.9" height="10.4" fill="none" stroke="#3d5290" stroke-width="0.9"/>
<rect x="220.6" y="220.4" width="77.9" height="10.4" fill="none" stroke="#3d5290" stroke-width="0.9"/>
<rect x="310.6" y="220.4" width="85.0" height="10.4" fill="none" stroke="#3d5290" stroke-width="0.9"/>
<rect x="93.8" y="267.8" width="9.3" height="5" fill="#b0122e"/>
<rect x="162.4" y="268" width="9.2" height="4.8" fill="#151515"/>
<rect x="218" y="268" width="9" height="4.8" fill="#27468a"/>
<rect x="284" y="267.6" width="9.8" height="5.6" rx="0.8" fill="none" stroke="#4a63a0" stroke-width="0.9"/>
<text x="106.20" y="272.30" font-size="5" fill="#1a1a1a" stroke="#1a1a1a" stroke-width="0.12" textLength="44.1" lengthAdjust="spacingAndGlyphs">Negative correlation</text>
<text x="174.70" y="272.30" font-size="5" fill="#1a1a1a" stroke="#1a1a1a" stroke-width="0.12" textLength="31.1" lengthAdjust="spacingAndGlyphs">No correlation</text>
<text x="230.00" y="272.30" font-size="5" fill="#1a1a1a" stroke="#1a1a1a" stroke-width="0.12" textLength="42" lengthAdjust="spacingAndGlyphs">Positive correlation</text>
<text x="296.30" y="272.30" font-size="5" fill="#1a1a1a" stroke="#1a1a1a" stroke-width="0.12" textLength="28.3" lengthAdjust="spacingAndGlyphs">Shown in (E)</text>
<line x1="38" y1="309.1" x2="38" y2="373.7" stroke="#1e1e1e" stroke-width="1.15"/>
<line x1="35.3" y1="370.8" x2="100.2" y2="370.8" stroke="#1e1e1e" stroke-width="1.15"/>
<line x1="38" y1="370.8" x2="38" y2="373.7" stroke="#1e1e1e" stroke-width="1.15"/>
<text x="38.00" y="382.20" font-size="6.3" fill="#333" stroke="#333" stroke-width="0.15" text-anchor="middle" >0</text>
<line x1="57.9" y1="370.8" x2="57.9" y2="373.7" stroke="#1e1e1e" stroke-width="1.15"/>
<text x="57.90" y="382.20" font-size="6.3" fill="#333" stroke="#333" stroke-width="0.15" text-anchor="middle" >10</text>
<line x1="77.8" y1="370.8" x2="77.8" y2="373.7" stroke="#1e1e1e" stroke-width="1.15"/>
<text x="77.80" y="382.20" font-size="6.3" fill="#333" stroke="#333" stroke-width="0.15" text-anchor="middle" >20</text>
<line x1="97.7" y1="370.8" x2="97.7" y2="373.7" stroke="#1e1e1e" stroke-width="1.15"/>
<text x="97.70" y="382.20" font-size="6.3" fill="#333" stroke="#333" stroke-width="0.15" text-anchor="middle" >30</text>
<line x1="35.3" y1="370.8" x2="38" y2="370.8" stroke="#1e1e1e" stroke-width="1.15"/>
<text x="32.40" y="373.05" font-size="6.3" fill="#333" stroke="#333" stroke-width="0.15" text-anchor="end" >0</text>
<line x1="35.3" y1="351.2" x2="38" y2="351.2" stroke="#1e1e1e" stroke-width="1.15"/>
<text x="32.40" y="353.45" font-size="6.3" fill="#333" stroke="#333" stroke-width="0.15" text-anchor="end" >10</text>
<line x1="35.3" y1="331.5" x2="38" y2="331.5" stroke="#1e1e1e" stroke-width="1.15"/>
<text x="32.40" y="333.75" font-size="6.3" fill="#333" stroke="#333" stroke-width="0.15" text-anchor="end" >20</text>
<line x1="35.3" y1="311.9" x2="38" y2="311.9" stroke="#1e1e1e" stroke-width="1.15"/>
<text x="32.40" y="314.15" font-size="6.3" fill="#333" stroke="#333" stroke-width="0.15" text-anchor="end" >30</text>
<text transform="translate(17.60,355.60) rotate(-90) scale(0.72,1)" font-size="6.7" fill="#222" stroke="#222" stroke-width="0.05" font-weight="bold">BM-CD69<tspan font-size="5.06" dy="-3">+</tspan><tspan dy="3.0"> T</tspan><tspan font-size="4.8" dy="2.3">TE</tspan></text>
<text transform="translate(53.80,395.90) scale(0.72,1)" font-size="6.7" fill="#222" stroke="#222" stroke-width="0.05" font-weight="bold">BM-CD69<tspan font-size="4.40" dy="-3">−</tspan><tspan dy="3.0"> T</tspan><tspan font-size="4.8" dy="2.3">TE</tspan></text>
<line x1="148.5" y1="309.1" x2="148.5" y2="373.9" stroke="#1e1e1e" stroke-width="1.15"/>
<line x1="145.8" y1="371" x2="210.2" y2="371" stroke="#1e1e1e" stroke-width="1.15"/>
<line x1="148.5" y1="371" x2="148.5" y2="373.9" stroke="#1e1e1e" stroke-width="1.15"/>
<text x="148.50" y="382.40" font-size="6.3" fill="#333" stroke="#333" stroke-width="0.15" text-anchor="middle" >0</text>
<line x1="163.4" y1="371" x2="163.4" y2="373.9" stroke="#1e1e1e" stroke-width="1.15"/>
<text x="163.40" y="382.40" font-size="6.3" fill="#333" stroke="#333" stroke-width="0.15" text-anchor="middle" >20</text>
<line x1="178.2" y1="371" x2="178.2" y2="373.9" stroke="#1e1e1e" stroke-width="1.15"/>
<text x="178.20" y="382.40" font-size="6.3" fill="#333" stroke="#333" stroke-width="0.15" text-anchor="middle" >40</text>
<line x1="193.0" y1="371" x2="193.0" y2="373.9" stroke="#1e1e1e" stroke-width="1.15"/>
<text x="193.00" y="382.40" font-size="6.3" fill="#333" stroke="#333" stroke-width="0.15" text-anchor="middle" >60</text>
<line x1="208.0" y1="371" x2="208.0" y2="373.9" stroke="#1e1e1e" stroke-width="1.15"/>
<text x="208.00" y="382.40" font-size="6.3" fill="#333" stroke="#333" stroke-width="0.15" text-anchor="middle" >80</text>
<line x1="145.8" y1="371" x2="148.5" y2="371" stroke="#1e1e1e" stroke-width="1.15"/>
<text x="142.90" y="373.25" font-size="6.3" fill="#333" stroke="#333" stroke-width="0.15" text-anchor="end" >0</text>
<line x1="145.8" y1="356.2" x2="148.5" y2="356.2" stroke="#1e1e1e" stroke-width="1.15"/>
<text x="142.90" y="358.45" font-size="6.3" fill="#333" stroke="#333" stroke-width="0.15" text-anchor="end" >2</text>
<line x1="145.8" y1="341.3" x2="148.5" y2="341.3" stroke="#1e1e1e" stroke-width="1.15"/>
<text x="142.90" y="343.55" font-size="6.3" fill="#333" stroke="#333" stroke-width="0.15" text-anchor="end" >4</text>
<line x1="145.8" y1="326.5" x2="148.5" y2="326.5" stroke="#1e1e1e" stroke-width="1.15"/>
<text x="142.90" y="328.75" font-size="6.3" fill="#333" stroke="#333" stroke-width="0.15" text-anchor="end" >6</text>
<line x1="145.8" y1="311.9" x2="148.5" y2="311.9" stroke="#1e1e1e" stroke-width="1.15"/>
<text x="142.90" y="314.15" font-size="6.3" fill="#333" stroke="#333" stroke-width="0.15" text-anchor="end" >8</text>
<text transform="translate(132.10,355.60) rotate(-90) scale(0.72,1)" font-size="6.7" fill="#222" stroke="#222" stroke-width="0.05" font-weight="bold">BM-CD69<tspan font-size="5.06" dy="-3">+</tspan><tspan dy="3.0"> T</tspan><tspan font-size="4.8" dy="2.3">TE</tspan></text>
<text transform="translate(164.00,395.90) scale(0.72,1)" font-size="6.7" fill="#222" stroke="#222" stroke-width="0.05" font-weight="bold">BM-CD69<tspan font-size="4.40" dy="-3">−</tspan><tspan dy="3.0"> T</tspan><tspan font-size="4.8" dy="2.3">TE</tspan></text>
<line x1="257.5" y1="309.3" x2="257.5" y2="373.7" stroke="#1e1e1e" stroke-width="1.15"/>
<line x1="254.8" y1="370.8" x2="319.6" y2="370.8" stroke="#1e1e1e" stroke-width="1.15"/>
<line x1="257.5" y1="370.8" x2="257.5" y2="373.7" stroke="#1e1e1e" stroke-width="1.15"/>
<text x="257.50" y="382.20" font-size="6.3" fill="#333" stroke="#333" stroke-width="0.15" text-anchor="middle" >0</text>
<line x1="272.2" y1="370.8" x2="272.2" y2="373.7" stroke="#1e1e1e" stroke-width="1.15"/>
<text x="272.20" y="382.20" font-size="6.3" fill="#333" stroke="#333" stroke-width="0.15" text-anchor="middle" >10</text>
<line x1="286.8" y1="370.8" x2="286.8" y2="373.7" stroke="#1e1e1e" stroke-width="1.15"/>
<text x="286.80" y="382.20" font-size="6.3" fill="#333" stroke="#333" stroke-width="0.15" text-anchor="middle" >20</text>
<line x1="301.5" y1="370.8" x2="301.5" y2="373.7" stroke="#1e1e1e" stroke-width="1.15"/>
<text x="301.50" y="382.20" font-size="6.3" fill="#333" stroke="#333" stroke-width="0.15" text-anchor="middle" >30</text>
<line x1="316.3" y1="370.8" x2="316.3" y2="373.7" stroke="#1e1e1e" stroke-width="1.15"/>
<text x="316.30" y="382.20" font-size="6.3" fill="#333" stroke="#333" stroke-width="0.15" text-anchor="middle" >40</text>
<line x1="254.8" y1="370.8" x2="257.5" y2="370.8" stroke="#1e1e1e" stroke-width="1.15"/>
<text x="251.90" y="373.05" font-size="6.3" fill="#333" stroke="#333" stroke-width="0.15" text-anchor="end" >0</text>
<line x1="254.8" y1="356.0" x2="257.5" y2="356.0" stroke="#1e1e1e" stroke-width="1.15"/>
<text x="251.90" y="358.25" font-size="6.3" fill="#333" stroke="#333" stroke-width="0.15" text-anchor="end" >10</text>
<line x1="254.8" y1="341.3" x2="257.5" y2="341.3" stroke="#1e1e1e" stroke-width="1.15"/>
<text x="251.90" y="343.55" font-size="6.3" fill="#333" stroke="#333" stroke-width="0.15" text-anchor="end" >20</text>
<line x1="254.8" y1="326.6" x2="257.5" y2="326.6" stroke="#1e1e1e" stroke-width="1.15"/>
<text x="251.90" y="328.85" font-size="6.3" fill="#333" stroke="#333" stroke-width="0.15" text-anchor="end" >30</text>
<line x1="254.8" y1="311.8" x2="257.5" y2="311.8" stroke="#1e1e1e" stroke-width="1.15"/>
<text x="251.90" y="314.05" font-size="6.3" fill="#333" stroke="#333" stroke-width="0.15" text-anchor="end" >40</text>
<text transform="translate(237.20,355.60) rotate(-90) scale(0.72,1)" font-size="6.7" fill="#222" stroke="#222" stroke-width="0.05" font-weight="bold">BM-CD69<tspan font-size="5.06" dy="-3">+</tspan><tspan dy="3.0"> T</tspan><tspan font-size="4.8" dy="2.3">TE</tspan></text>
<text transform="translate(273.10,395.90) scale(0.72,1)" font-size="6.7" fill="#222" stroke="#222" stroke-width="0.05" font-weight="bold">BM-CD69<tspan font-size="4.40" dy="-3">−</tspan><tspan dy="3.0"> T</tspan><tspan font-size="4.8" dy="2.3">TE</tspan></text>
<text x="55.00" y="310.40" font-size="8" fill="#111" stroke="#111" stroke-width="0.15" textLength="28.2" lengthAdjust="spacingAndGlyphs">Controls</text>
<text x="167.90" y="310.40" font-size="8" fill="#111" stroke="#111" stroke-width="0.15" textLength="23.35" lengthAdjust="spacingAndGlyphs">MGUS</text>
<text x="276.30" y="310.40" font-size="8" fill="#111" stroke="#111" stroke-width="0.15" textLength="24.3" lengthAdjust="spacingAndGlyphs">NDMM</text>
<text x="74.00" y="360.40" font-size="5.3" fill="#222" stroke="#222" stroke-width="0.12" textLength="25.2" lengthAdjust="spacingAndGlyphs">P = 0.1307</text>
<text x="65.20" y="368.10" font-size="5.3" fill="#222" stroke="#222" stroke-width="0.12" textLength="42.1" lengthAdjust="spacingAndGlyphs">R square = 0.1951</text>
<text x="178.60" y="361.00" font-size="5.3" fill="#222" stroke="#222" stroke-width="0.12" textLength="26.2" lengthAdjust="spacingAndGlyphs">P = 0.3639</text>
<text x="169.20" y="368.80" font-size="5.3" fill="#222" stroke="#222" stroke-width="0.12" textLength="43.7" lengthAdjust="spacingAndGlyphs">R square = 0.1038</text>
<text x="308.30" y="338.30" font-size="5.3" fill="#222" stroke="#222" stroke-width="0.12" textLength="29.4" lengthAdjust="spacingAndGlyphs">**P = 0.0073</text>
<text x="301.30" y="345.60" font-size="5.3" fill="#222" stroke="#222" stroke-width="0.12" textLength="42.7" lengthAdjust="spacingAndGlyphs">R square = 0.3534</text>
<line x1="44.4" y1="353.6" x2="81.6" y2="334.2" stroke="#111" stroke-width="0.9"/>
<line x1="152.2" y1="344.7" x2="190.7" y2="332.6" stroke="#111" stroke-width="0.9"/>
<line x1="264.2" y1="339.5" x2="313.3" y2="367.2" stroke="#111" stroke-width="0.9"/>
<circle cx="57.4" cy="323.9" r="1.3" fill="#fff" stroke="#111" stroke-width="1.0"/>
<circle cx="57.1" cy="329.9" r="1.3" fill="#fff" stroke="#111" stroke-width="1.0"/>
<circle cx="44.4" cy="347" r="1.3" fill="#fff" stroke="#111" stroke-width="1.0"/>
<circle cx="61.7" cy="340.3" r="1.3" fill="#fff" stroke="#111" stroke-width="1.0"/>
<circle cx="60.6" cy="342.0" r="1.3" fill="#fff" stroke="#111" stroke-width="1.0"/>
<circle cx="60.0" cy="343.3" r="1.3" fill="#fff" stroke="#111" stroke-width="1.0"/>
<circle cx="81.9" cy="342.2" r="1.3" fill="#fff" stroke="#111" stroke-width="1.0"/>
<circle cx="66.6" cy="350.2" r="1.3" fill="#fff" stroke="#111" stroke-width="1.0"/>
<circle cx="50.9" cy="355.5" r="1.3" fill="#fff" stroke="#111" stroke-width="1.0"/>
<circle cx="46" cy="357.9" r="1.3" fill="#fff" stroke="#111" stroke-width="1.0"/>
<circle cx="48.6" cy="361.9" r="1.3" fill="#fff" stroke="#111" stroke-width="1.0"/>
<circle cx="49.8" cy="363.8" r="1.3" fill="#fff" stroke="#111" stroke-width="1.0"/>
<circle cx="174" cy="317" r="1.1" fill="#35a81c" stroke="#111" stroke-width="0.9"/>
<circle cx="152.5" cy="333.3" r="1.1" fill="#35a81c" stroke="#111" stroke-width="0.9"/>
<circle cx="167.6" cy="333" r="1.1" fill="#35a81c" stroke="#111" stroke-width="0.9"/>
<circle cx="156.3" cy="337.6" r="1.1" fill="#35a81c" stroke="#111" stroke-width="0.9"/>
<circle cx="152.3" cy="341.2" r="1.1" fill="#35a81c" stroke="#111" stroke-width="0.9"/>
<circle cx="189" cy="338.3" r="1.1" fill="#35a81c" stroke="#111" stroke-width="0.9"/>
<circle cx="190.7" cy="343.6" r="1.1" fill="#35a81c" stroke="#111" stroke-width="0.9"/>
<circle cx="153.3" cy="363.3" r="1.1" fill="#35a81c" stroke="#111" stroke-width="0.9"/>
<circle cx="155.6" cy="363.3" r="1.1" fill="#35a81c" stroke="#111" stroke-width="0.9"/>
<circle cx="265.1" cy="325.3" r="1.1" fill="#c00018" stroke="#111" stroke-width="0.9"/>
<circle cx="268.5" cy="325.9" r="1.1" fill="#c00018" stroke="#111" stroke-width="0.9"/>
<circle cx="279.9" cy="327.4" r="1.1" fill="#c00018" stroke="#111" stroke-width="0.9"/>
<circle cx="283.3" cy="336.8" r="1.1" fill="#c00018" stroke="#111" stroke-width="0.9"/>
<circle cx="282.3" cy="338.3" r="1.1" fill="#c00018" stroke="#111" stroke-width="0.9"/>
<circle cx="266.4" cy="341.3" r="1.1" fill="#c00018" stroke="#111" stroke-width="0.9"/>
<circle cx="277.3" cy="342.2" r="1.1" fill="#c00018" stroke="#111" stroke-width="0.9"/>
<circle cx="287.2" cy="352.1" r="1.1" fill="#c00018" stroke="#111" stroke-width="0.9"/>
<circle cx="275.2" cy="353.5" r="1.1" fill="#c00018" stroke="#111" stroke-width="0.9"/>
<circle cx="264.4" cy="356.8" r="1.1" fill="#c00018" stroke="#111" stroke-width="0.9"/>
<circle cx="277.6" cy="362.8" r="1.1" fill="#c00018" stroke="#111" stroke-width="0.9"/>
<circle cx="290" cy="362" r="1.1" fill="#c00018" stroke="#111" stroke-width="0.9"/>
<circle cx="269.9" cy="368.6" r="1.1" fill="#c00018" stroke="#111" stroke-width="0.9"/>
<circle cx="295.5" cy="358.7" r="1.1" fill="#c00018" stroke="#111" stroke-width="0.9"/>
<circle cx="303.3" cy="360" r="1.1" fill="#c00018" stroke="#111" stroke-width="0.9"/>
<circle cx="304.4" cy="364.2" r="1.1" fill="#c00018" stroke="#111" stroke-width="0.9"/>
<circle cx="308.7" cy="365.3" r="1.1" fill="#c00018" stroke="#111" stroke-width="0.9"/>
<circle cx="313.2" cy="367" r="1.1" fill="#c00018" stroke="#111" stroke-width="0.9"/>
<circle cx="305.8" cy="368.7" r="1.1" fill="#c00018" stroke="#111" stroke-width="0.9"/>
<rect x="0.5" y="0.5" width="519" height="405" fill="none" stroke="#000" stroke-width="1"/>
</svg></body></html>
